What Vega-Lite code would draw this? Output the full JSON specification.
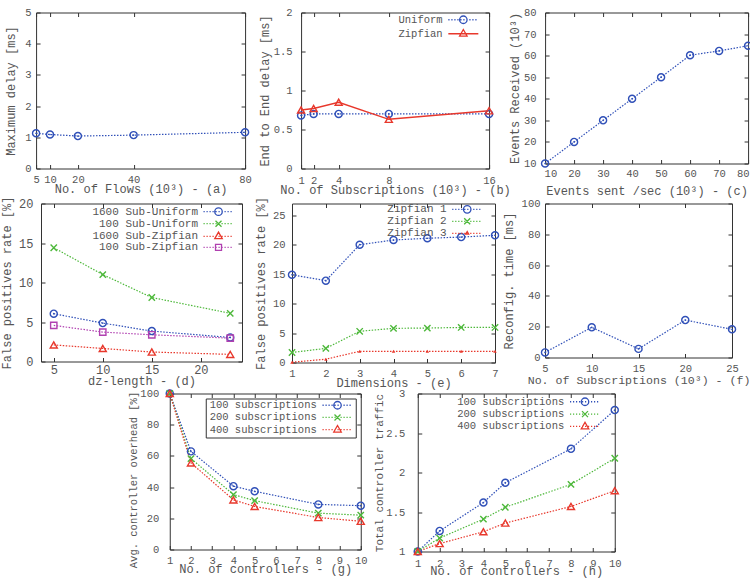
{
  "$schema": "https://vega.github.io/schema/vega-lite/v6.json",
  "padding": {"left": 0, "top": 6.5, "right": 0, "bottom": 0},
  "background": "white",
  "config": {
    "font": "Liberation Mono",
    "view": {"stroke": "#333", "strokeWidth": 1},
    "axis": {"grid": false, "domain": false, "tickSize": -4, "tickColor": "#333", "labelFontSize": 10.5, "labelColor": "#555", "titleFontSize": 12, "titleFontWeight": "normal", "titleColor": "#555", "labelFlush": false, "labelOverlap": false, "labelBound": false},
    "legend": {"labelColor": "#555", "labelAlign": "right", "labelOffset": -26, "symbolSize": 36, "symbolStrokeWidth": 1.3, "padding": 0, "symbolOpacity": 1, "labelLimit": 300, "rowPadding": -1}
  },
  "datasets": {
    "a": [{"x": 5, "y": 1.13}, {"x": 10, "y": 1.09}, {"x": 20, "y": 1.04}, {"x": 40, "y": 1.07}, {"x": 80, "y": 1.16}],
    "b": [
      {"x": 1, "y": 0.68, "s": "Uniform"}, {"x": 2, "y": 0.70, "s": "Uniform"}, {"x": 4, "y": 0.70, "s": "Uniform"}, {"x": 8, "y": 0.70, "s": "Uniform"}, {"x": 16, "y": 0.70, "s": "Uniform"},
      {"x": 1, "y": 0.75, "s": "Zipfian"}, {"x": 2, "y": 0.77, "s": "Zipfian"}, {"x": 4, "y": 0.85, "s": "Zipfian"}, {"x": 8, "y": 0.63, "s": "Zipfian"}, {"x": 16, "y": 0.74, "s": "Zipfian"}
    ],
    "c": [{"x": 10, "y": 10}, {"x": 20, "y": 20}, {"x": 30, "y": 30}, {"x": 40, "y": 40}, {"x": 50, "y": 50}, {"x": 60, "y": 60.2}, {"x": 70, "y": 62.2}, {"x": 80, "y": 64.6}],
    "d": [
      {"x": 5, "y": 6.05, "s": "1600 Sub-Uniform"}, {"x": 10, "y": 4.86, "s": "1600 Sub-Uniform"}, {"x": 15, "y": 3.85, "s": "1600 Sub-Uniform"}, {"x": 23, "y": 3.04, "s": "1600 Sub-Uniform"},
      {"x": 5, "y": 14.4, "s": "100 Sub-Uniform"}, {"x": 10, "y": 11.0, "s": "100 Sub-Uniform"}, {"x": 15, "y": 8.1, "s": "100 Sub-Uniform"}, {"x": 23, "y": 6.1, "s": "100 Sub-Uniform"},
      {"x": 5, "y": 2.1, "s": "1600 Sub-Zipfian"}, {"x": 10, "y": 1.65, "s": "1600 Sub-Zipfian"}, {"x": 15, "y": 1.2, "s": "1600 Sub-Zipfian"}, {"x": 23, "y": 0.9, "s": "1600 Sub-Zipfian"},
      {"x": 5, "y": 4.57, "s": "100 Sub-Zipfian"}, {"x": 10, "y": 3.72, "s": "100 Sub-Zipfian"}, {"x": 15, "y": 3.38, "s": "100 Sub-Zipfian"}, {"x": 23, "y": 2.96, "s": "100 Sub-Zipfian"}
    ],
    "e": [
      {"x": 1, "y": 14.9, "s": "Zipfian 1"}, {"x": 2, "y": 13.9, "s": "Zipfian 1"}, {"x": 3, "y": 20.0, "s": "Zipfian 1"}, {"x": 4, "y": 20.8, "s": "Zipfian 1"}, {"x": 5, "y": 21.1, "s": "Zipfian 1"}, {"x": 6, "y": 21.3, "s": "Zipfian 1"}, {"x": 7, "y": 21.6, "s": "Zipfian 1"},
      {"x": 1, "y": 1.7, "s": "Zipfian 2"}, {"x": 2, "y": 2.4, "s": "Zipfian 2"}, {"x": 3, "y": 5.3, "s": "Zipfian 2"}, {"x": 4, "y": 5.8, "s": "Zipfian 2"}, {"x": 5, "y": 5.85, "s": "Zipfian 2"}, {"x": 6, "y": 5.95, "s": "Zipfian 2"}, {"x": 7, "y": 5.95, "s": "Zipfian 2"},
      {"x": 1, "y": 0.05, "s": "Zipfian 3"}, {"x": 2, "y": 0.56, "s": "Zipfian 3"}, {"x": 3, "y": 1.9, "s": "Zipfian 3"}, {"x": 4, "y": 1.9, "s": "Zipfian 3"}, {"x": 5, "y": 1.9, "s": "Zipfian 3"}, {"x": 6, "y": 1.9, "s": "Zipfian 3"}, {"x": 7, "y": 1.9, "s": "Zipfian 3"}
    ],
    "f": [{"x": 5, "y": 3.3}, {"x": 10, "y": 19.6}, {"x": 15, "y": 5.6}, {"x": 20, "y": 24.3}, {"x": 25, "y": 18.3}],
    "g": [
      {"x": 1, "y": 100, "s": "100 subscriptions"}, {"x": 2, "y": 62.9, "s": "100 subscriptions"}, {"x": 4, "y": 40.6, "s": "100 subscriptions"}, {"x": 5, "y": 37.3, "s": "100 subscriptions"}, {"x": 8, "y": 28.9, "s": "100 subscriptions"}, {"x": 10, "y": 28.1, "s": "100 subscriptions"},
      {"x": 1, "y": 100, "s": "200 subscriptions"}, {"x": 2, "y": 58.3, "s": "200 subscriptions"}, {"x": 4, "y": 35.2, "s": "200 subscriptions"}, {"x": 5, "y": 31.3, "s": "200 subscriptions"}, {"x": 8, "y": 23.3, "s": "200 subscriptions"}, {"x": 10, "y": 22.0, "s": "200 subscriptions"},
      {"x": 1, "y": 100, "s": "400 subscriptions"}, {"x": 2, "y": 55.5, "s": "400 subscriptions"}, {"x": 4, "y": 31.8, "s": "400 subscriptions"}, {"x": 5, "y": 27.6, "s": "400 subscriptions"}, {"x": 8, "y": 20.5, "s": "400 subscriptions"}, {"x": 10, "y": 18.1, "s": "400 subscriptions"}
    ],
    "h": [
      {"x": 1, "y": 1.0, "s": "100 subscriptions"}, {"x": 2, "y": 1.26, "s": "100 subscriptions"}, {"x": 4, "y": 1.62, "s": "100 subscriptions"}, {"x": 5, "y": 1.87, "s": "100 subscriptions"}, {"x": 8, "y": 2.30, "s": "100 subscriptions"}, {"x": 10, "y": 2.79, "s": "100 subscriptions"},
      {"x": 1, "y": 1.0, "s": "200 subscriptions"}, {"x": 2, "y": 1.17, "s": "200 subscriptions"}, {"x": 4, "y": 1.41, "s": "200 subscriptions"}, {"x": 5, "y": 1.56, "s": "200 subscriptions"}, {"x": 8, "y": 1.85, "s": "200 subscriptions"}, {"x": 10, "y": 2.18, "s": "200 subscriptions"},
      {"x": 1, "y": 1.0, "s": "400 subscriptions"}, {"x": 2, "y": 1.10, "s": "400 subscriptions"}, {"x": 4, "y": 1.25, "s": "400 subscriptions"}, {"x": 5, "y": 1.36, "s": "400 subscriptions"}, {"x": 8, "y": 1.57, "s": "400 subscriptions"}, {"x": 10, "y": 1.77, "s": "400 subscriptions"}
    ]
  },
  "spacing": -2,
  "center": true,
  "resolve": {"scale": {"color": "independent", "shape": "independent"}},
  "vconcat": [
    {
      "hconcat": [
        {
          "width": 209, "height": 156,
          "data": {"name": "a"},
          "resolve": {"axis": {"x": "independent", "y": "independent"}},
          "layer": [
            {
              "encoding": {
                "x": {"field": "x", "type": "quantitative", "scale": {"domain": [5, 80], "nice": false, "zero": false}, "axis": {"values": [5, 10, 20, 40, 80], "title": "No. of Flows (10³) - (a)", "labelPadding": 9.5, "titleY": 15}},
                "y": {"field": "y", "type": "quantitative", "scale": {"domain": [0, 5], "nice": false, "zero": false}, "axis": {"values": [0, 1, 2, 3, 4, 5], "title": "Maximum delay [ms]", "labelPadding": 9, "titleX": -18.5}}
              },
              "layer": [
                {"mark": {"type": "line", "color": "#3050b8", "strokeDash": [1.5, 1.5], "strokeWidth": 1.2}},
                {"mark": {"type": "point", "color": "#3050b8", "filled": false, "size": 50, "strokeWidth": 1.4, "opacity": 1}},
                {"mark": {"type": "point", "color": "#3050b8", "filled": true, "size": 3, "opacity": 1}}
              ]
            },
            {"transform": [{"filter": "false"}], "mark": {"type": "point", "opacity": 0},
              "encoding": {
                "x": {"field": "x", "type": "quantitative", "scale": {"domain": [5, 80], "nice": false, "zero": false}, "axis": {"orient": "top", "values": [5, 10, 20, 40, 80], "labels": false, "title": null}},
                "y": {"field": "y", "type": "quantitative", "scale": {"domain": [0, 5], "nice": false, "zero": false}, "axis": {"orient": "right", "values": [0, 1, 2, 3, 4, 5], "labels": false, "title": null}}
              }}
          ]
        },
        {
          "width": 188, "height": 156,
          "data": {"name": "b"},
          "resolve": {"axis": {"x": "independent", "y": "independent"}},
          "layer": [
            {
              "encoding": {
                "x": {"field": "x", "type": "quantitative", "scale": {"domain": [1, 16], "nice": false, "zero": false}, "axis": {"values": [1, 2, 4, 8, 16], "title": "No. of Subscriptions (10³) - (b)", "labelPadding": 10.5, "titleY": 16}},
                "y": {"field": "y", "type": "quantitative", "scale": {"domain": [0, 2], "nice": false, "zero": false}, "axis": {"values": [0, 0.5, 1, 1.5, 2], "format": "~g", "title": "End to End delay [ms]", "labelPadding": 13, "titleX": -30}}
              },
              "layer": [
                {"transform": [{"filter": "datum.s === 'Uniform'"}], "mark": {"type": "line", "color": "#3050b8", "strokeDash": [1.5, 1.5], "strokeWidth": 1.2}},
                {"transform": [{"filter": "datum.s === 'Zipfian'"}], "mark": {"type": "line", "color": "#e8382c", "strokeWidth": 1.5}},
                {"transform": [{"filter": "datum.s === 'Uniform'"}], "mark": {"type": "point", "shape": "circle", "color": "#3050b8", "filled": false, "size": 50, "strokeWidth": 1.4, "opacity": 1}},
                {"transform": [{"filter": "datum.s === 'Uniform'"}], "mark": {"type": "point", "shape": "circle", "color": "#3050b8", "filled": true, "size": 3, "opacity": 1}},
                {"transform": [{"filter": "datum.s === 'Zipfian'"}], "mark": {"type": "point", "shape": "triangle-up", "color": "#e8382c", "filled": false, "size": 50, "strokeWidth": 1.4, "opacity": 1}},
                {"transform": [{"filter": "false"}], "mark": {"type": "point", "filled": false, "opacity": 1},
                  "encoding": {
                    "color": {"field": "s", "type": "nominal", "scale": {"domain": ["Uniform", "Zipfian"], "range": ["#3050b8", "#e8382c"]}, "legend": {"title": null, "orient": "none", "legendX": 157, "legendY": 2, "labelFontSize": 10.5, "rowPadding": 0}},
                    "shape": {"field": "s", "type": "nominal", "scale": {"domain": ["Uniform", "Zipfian"], "range": ["M-5,0h0.4M-4,0h0.4M-3,0h0.4M-2,0h0.4M-1,0h0.4M0,0h0.4M1,0h0.4M2,0h0.4M3,0h0.4M4,0h0.4M1.25,0A1.25,1.25,0,1,1,-1.25,0A1.25,1.25,0,1,1,1.25,0", "M-5,0H5M0,-1.4L1.25,0.8L-1.25,0.8Z"]}, "legend": {"title": null, "orient": "none", "legendX": 157, "legendY": 2, "labelFontSize": 10.5, "rowPadding": 0}}
                  }}
              ]
            },
            {"transform": [{"filter": "false"}], "mark": {"type": "point", "opacity": 0},
              "encoding": {
                "x": {"field": "x", "type": "quantitative", "scale": {"domain": [1, 16], "nice": false, "zero": false}, "axis": {"orient": "top", "values": [1, 2, 4, 8, 16], "labels": false, "title": null}},
                "y": {"field": "y", "type": "quantitative", "scale": {"domain": [0, 2], "nice": false, "zero": false}, "axis": {"orient": "right", "values": [0, 0.5, 1, 1.5, 2], "labels": false, "title": null}}
              }}
          ]
        },
        {
          "width": 203, "height": 151,
          "data": {"name": "c"},
          "resolve": {"axis": {"x": "independent", "y": "independent"}},
          "layer": [
            {
              "encoding": {
                "x": {"field": "x", "type": "quantitative", "scale": {"domain": [10, 80], "nice": false, "zero": false}, "axis": {"values": [10, 20, 30, 40, 50, 60, 70, 80], "title": "Events sent /sec (10³) - (c)", "labelPadding": 8.5, "titleY": 22, "labelFlush": true, "labelFlushOffset": 1}},
                "y": {"field": "y", "type": "quantitative", "scale": {"domain": [10, 80], "nice": false, "zero": false}, "axis": {"values": [10, 20, 30, 40, 50, 60, 70, 80], "title": "Events Received (10³)", "labelPadding": 13, "titleX": -24}}
              },
              "layer": [
                {"mark": {"type": "line", "color": "#3050b8", "strokeDash": [1.5, 1.5], "strokeWidth": 1.2}},
                {"mark": {"type": "point", "color": "#3050b8", "filled": false, "size": 50, "strokeWidth": 1.4, "opacity": 1}},
                {"mark": {"type": "point", "color": "#3050b8", "filled": true, "size": 3, "opacity": 1}}
              ]
            },
            {"transform": [{"filter": "false"}], "mark": {"type": "point", "opacity": 0},
              "encoding": {
                "x": {"field": "x", "type": "quantitative", "scale": {"domain": [10, 80], "nice": false, "zero": false}, "axis": {"orient": "top", "values": [10, 20, 30, 40, 50, 60, 70, 80], "labels": false, "title": null}},
                "y": {"field": "y", "type": "quantitative", "scale": {"domain": [10, 80], "nice": false, "zero": false}, "axis": {"orient": "right", "values": [10, 20, 30, 40, 50, 60, 70, 80], "labels": false, "title": null}}
              }}
          ]
        }
      ],
      "spacing": 56,
      "bounds": "flush",
      "resolve": {"scale": {"color": "independent", "shape": "independent"}}
    },
    {
      "spacing": -3,
      "center": true,
      "resolve": {"scale": {"color": "independent", "shape": "independent"}},
      "vconcat": [
        {
          "hconcat": [
            {
              "width": 201, "height": 158,
              "data": {"name": "d"},
              "resolve": {"axis": {"x": "independent", "y": "independent"}},
              "layer": [
                {
                  "encoding": {
                    "x": {"field": "x", "type": "quantitative", "scale": {"domain": [3.7, 24.2], "nice": false, "zero": false}, "axis": {"values": [5, 10, 15, 20], "title": "dz-length - (d)", "labelPadding": 6.5, "labelFontSize": 12, "titleY": 14}},
                    "y": {"field": "y", "type": "quantitative", "scale": {"domain": [0, 20], "nice": false, "zero": false}, "axis": {"values": [0, 5, 10, 15, 20], "title": "False positives rate [%]", "labelPadding": 12, "labelFontSize": 12, "titleX": -27.5}}
                  },
                  "layer": [
                    {"transform": [{"filter": "datum.s === '1600 Sub-Uniform'"}], "mark": {"type": "line", "color": "#3050b8", "strokeDash": [1.5, 1.5], "strokeWidth": 1.2}},
                    {"transform": [{"filter": "datum.s === '100 Sub-Uniform'"}], "mark": {"type": "line", "color": "#4db83a", "strokeDash": [1.5, 1.5], "strokeWidth": 1.2}},
                    {"transform": [{"filter": "datum.s === '1600 Sub-Zipfian'"}], "mark": {"type": "line", "color": "#e8382c", "strokeDash": [1.5, 1.5], "strokeWidth": 1.2}},
                    {"transform": [{"filter": "datum.s === '100 Sub-Zipfian'"}], "mark": {"type": "line", "color": "#b040b0", "strokeDash": [1.5, 1.5], "strokeWidth": 1.2}},
                    {"transform": [{"filter": "datum.s === '1600 Sub-Uniform'"}], "mark": {"type": "point", "shape": "circle", "color": "#3050b8", "filled": false, "size": 50, "strokeWidth": 1.4, "opacity": 1}},
                    {"transform": [{"filter": "datum.s === '1600 Sub-Uniform'"}], "mark": {"type": "point", "shape": "circle", "color": "#3050b8", "filled": true, "size": 3, "opacity": 1}},
                    {"transform": [{"filter": "datum.s === '100 Sub-Uniform'"}], "mark": {"type": "point", "shape": "M-1,-1L1,1M-1,1L1,-1", "color": "#4db83a", "filled": false, "size": 40, "strokeWidth": 1.4, "opacity": 1}},
                    {"transform": [{"filter": "datum.s === '1600 Sub-Zipfian'"}], "mark": {"type": "point", "shape": "triangle-up", "color": "#e8382c", "filled": false, "size": 50, "strokeWidth": 1.4, "opacity": 1}},
                    {"transform": [{"filter": "datum.s === '100 Sub-Zipfian'"}], "mark": {"type": "point", "shape": "square", "color": "#b040b0", "filled": false, "size": 40, "strokeWidth": 1.4, "opacity": 1}},
                    {"transform": [{"filter": "false"}], "mark": {"type": "point", "filled": false, "opacity": 1},
                      "encoding": {
                        "color": {"field": "s", "type": "nominal", "scale": {"domain": ["1600 Sub-Uniform", "100 Sub-Uniform", "1600 Sub-Zipfian", "100 Sub-Zipfian"], "range": ["#3050b8", "#4db83a", "#e8382c", "#b040b0"]}, "legend": {"title": null, "orient": "none", "legendX": 172, "legendY": 2.7, "labelFontSize": 11, "rowPadding": -1.4}},
                        "shape": {"field": "s", "type": "nominal", "scale": {"domain": ["1600 Sub-Uniform", "100 Sub-Uniform", "1600 Sub-Zipfian", "100 Sub-Zipfian"], "range": [
                          "M-5,0h0.4M-4,0h0.4M-3,0h0.4M-2,0h0.4M-1,0h0.4M0,0h0.4M1,0h0.4M2,0h0.4M3,0h0.4M4,0h0.4M1.25,0A1.25,1.25,0,1,1,-1.25,0A1.25,1.25,0,1,1,1.25,0",
                          "M-5,0h0.4M-4,0h0.4M-3,0h0.4M-2,0h0.4M-1,0h0.4M0,0h0.4M1,0h0.4M2,0h0.4M3,0h0.4M4,0h0.4M-1,-1L1,1M-1,1L1,-1",
                          "M-5,0h0.4M-4,0h0.4M-3,0h0.4M-2,0h0.4M-1,0h0.4M0,0h0.4M1,0h0.4M2,0h0.4M3,0h0.4M4,0h0.4M0,-1.4L1.25,0.8L-1.25,0.8Z",
                          "M-5,0h0.4M-4,0h0.4M-3,0h0.4M-2,0h0.4M-1,0h0.4M0,0h0.4M1,0h0.4M2,0h0.4M3,0h0.4M4,0h0.4M-1,-1H1V1H-1Z"]}, "legend": {"title": null, "orient": "none", "legendX": 172, "legendY": 2.7, "labelFontSize": 11, "rowPadding": -1.4}}
                      }}
                  ]
                },
                {"transform": [{"filter": "false"}], "mark": {"type": "point", "opacity": 0},
                  "encoding": {
                    "x": {"field": "x", "type": "quantitative", "scale": {"domain": [3.7, 24.2], "nice": false, "zero": false}, "axis": {"orient": "top", "values": [5, 10, 15, 20], "labels": false, "title": null}},
                    "y": {"field": "y", "type": "quantitative", "scale": {"domain": [0, 20], "nice": false, "zero": false}, "axis": {"orient": "right", "values": [0, 5, 10, 15, 20], "labels": false, "title": null}}
                  }}
              ]
            },
            {
              "width": 203, "height": 159,
              "data": {"name": "e"},
              "resolve": {"axis": {"x": "independent", "y": "independent"}},
              "layer": [
                {
                  "encoding": {
                    "x": {"field": "x", "type": "quantitative", "scale": {"domain": [1, 7], "nice": false, "zero": false}, "axis": {"values": [1, 2, 3, 4, 5, 6, 7], "title": "Dimensions - (e)", "labelPadding": 9.5, "titleY": 15}},
                    "y": {"field": "y", "type": "quantitative", "scale": {"domain": [0, 27], "nice": false, "zero": false}, "axis": {"values": [0, 5, 10, 15, 20, 25], "title": "False positives rate [%]", "labelPadding": 11, "titleX": -25}}
                  },
                  "layer": [
                    {"transform": [{"filter": "datum.s === 'Zipfian 1'"}], "mark": {"type": "line", "color": "#3050b8", "strokeDash": [1.5, 1.5], "strokeWidth": 1.2}},
                    {"transform": [{"filter": "datum.s === 'Zipfian 2'"}], "mark": {"type": "line", "color": "#4db83a", "strokeDash": [1.5, 1.5], "strokeWidth": 1.2}},
                    {"transform": [{"filter": "datum.s === 'Zipfian 3'"}], "mark": {"type": "line", "color": "#e8382c", "strokeDash": [1.5, 1.5], "strokeWidth": 1.2}},
                    {"transform": [{"filter": "datum.s === 'Zipfian 1'"}], "mark": {"type": "point", "shape": "circle", "color": "#3050b8", "filled": false, "size": 50, "strokeWidth": 1.4, "opacity": 1}},
                    {"transform": [{"filter": "datum.s === 'Zipfian 1'"}], "mark": {"type": "point", "shape": "circle", "color": "#3050b8", "filled": true, "size": 3, "opacity": 1}},
                    {"transform": [{"filter": "datum.s === 'Zipfian 2'"}], "mark": {"type": "point", "shape": "M-1,-1L1,1M-1,1L1,-1", "color": "#4db83a", "filled": false, "size": 40, "strokeWidth": 1.4, "opacity": 1}},
                    {"transform": [{"filter": "datum.s === 'Zipfian 3'"}], "mark": {"type": "point", "shape": "triangle-up", "color": "#e8382c", "filled": true, "size": 12, "opacity": 1}},
                    {"transform": [{"filter": "false"}], "mark": {"type": "point", "filled": false, "opacity": 1},
                      "encoding": {
                        "color": {"field": "s", "type": "nominal", "scale": {"domain": ["Zipfian 1", "Zipfian 2", "Zipfian 3"], "range": ["#3050b8", "#4db83a", "#e8382c"]}, "legend": {"title": null, "orient": "none", "legendX": 169.7, "legendY": 0.3, "labelFontSize": 11, "rowPadding": -1}},
                        "shape": {"field": "s", "type": "nominal", "scale": {"domain": ["Zipfian 1", "Zipfian 2", "Zipfian 3"], "range": [
                          "M-5,0h0.4M-4,0h0.4M-3,0h0.4M-2,0h0.4M-1,0h0.4M0,0h0.4M1,0h0.4M2,0h0.4M3,0h0.4M4,0h0.4M1.25,0A1.25,1.25,0,1,1,-1.25,0A1.25,1.25,0,1,1,1.25,0",
                          "M-5,0h0.4M-4,0h0.4M-3,0h0.4M-2,0h0.4M-1,0h0.4M0,0h0.4M1,0h0.4M2,0h0.4M3,0h0.4M4,0h0.4M-1,-1L1,1M-1,1L1,-1",
                          "M-5,0h0.4M-4,0h0.4M-3,0h0.4M-2,0h0.4M-1,0h0.4M0,0h0.4M1,0h0.4M2,0h0.4M3,0h0.4M4,0h0.4M0,-0.6L0.5,0.3L-0.5,0.3Z"]}, "legend": {"title": null, "orient": "none", "legendX": 169.7, "legendY": 0.3, "labelFontSize": 11, "rowPadding": -1}}
                      }}
                  ]
                },
                {"transform": [{"filter": "false"}], "mark": {"type": "point", "opacity": 0},
                  "encoding": {
                    "x": {"field": "x", "type": "quantitative", "scale": {"domain": [1, 7], "nice": false, "zero": false}, "axis": {"orient": "top", "values": [1, 2, 3, 4, 5, 6, 7], "labels": false, "title": null}},
                    "y": {"field": "y", "type": "quantitative", "scale": {"domain": [0, 27], "nice": false, "zero": false}, "axis": {"orient": "right", "values": [0, 5, 10, 15, 20, 25], "labels": false, "title": null}}
                  }}
              ]
            },
            {
              "width": 187, "height": 154,
              "data": {"name": "f"},
              "resolve": {"axis": {"x": "independent", "y": "independent"}},
              "layer": [
                {
                  "encoding": {
                    "x": {"field": "x", "type": "quantitative", "scale": {"domain": [5, 25], "nice": false, "zero": false}, "axis": {"values": [5, 10, 15, 20, 25], "title": "No. of Subscriptions (10³) - (f)", "titleFontSize": 11.6, "labelPadding": 9.5, "titleY": 17}},
                    "y": {"field": "y", "type": "quantitative", "scale": {"domain": [0, 100], "nice": false, "zero": false}, "axis": {"values": [0, 20, 40, 60, 80, 100], "title": "Reconfig. time [ms]", "labelPadding": 9, "titleX": -30}}
                  },
                  "layer": [
                    {"mark": {"type": "line", "color": "#3050b8", "strokeDash": [1.5, 1.5], "strokeWidth": 1.2}},
                    {"mark": {"type": "point", "color": "#3050b8", "filled": false, "size": 50, "strokeWidth": 1.4, "opacity": 1}},
                    {"mark": {"type": "point", "color": "#3050b8", "filled": true, "size": 3, "opacity": 1}}
                  ]
                },
                {"transform": [{"filter": "false"}], "mark": {"type": "point", "opacity": 0},
                  "encoding": {
                    "x": {"field": "x", "type": "quantitative", "scale": {"domain": [5, 25], "nice": false, "zero": false}, "axis": {"orient": "top", "values": [5, 10, 15, 20, 25], "labels": false, "title": null}},
                    "y": {"field": "y", "type": "quantitative", "scale": {"domain": [0, 100], "nice": false, "zero": false}, "axis": {"orient": "right", "values": [0, 20, 40, 60, 80, 100], "labels": false, "title": null}}
                  }}
              ]
            }
          ],
          "spacing": 50,
          "bounds": "flush",
          "resolve": {"scale": {"color": "independent", "shape": "independent"}}
        },
        {
          "hconcat": [
            {
              "width": 191, "height": 156,
              "data": {"name": "g"},
              "resolve": {"axis": {"x": "independent", "y": "independent"}},
              "layer": [
                {
                  "encoding": {
                    "x": {"field": "x", "type": "quantitative", "scale": {"domain": [1, 10], "nice": false, "zero": false}, "axis": {"values": [1, 2, 3, 4, 5, 6, 7, 8, 9, 10], "title": "No. of controllers - (g)", "labelPadding": 9.5, "titleY": 14}},
                    "y": {"field": "y", "type": "quantitative", "scale": {"domain": [0, 100], "nice": false, "zero": false}, "axis": {"values": [0, 20, 40, 60, 80, 100], "title": "Avg. controller overhead [%]", "labelPadding": 15, "titleX": -31, "titleY": 86, "titleFontSize": 10.5}}
                  },
                  "layer": [
                    {"transform": [{"filter": "datum.s === '100 subscriptions'"}], "mark": {"type": "line", "color": "#3050b8", "strokeDash": [1.5, 1.5], "strokeWidth": 1.2}},
                    {"transform": [{"filter": "datum.s === '200 subscriptions'"}], "mark": {"type": "line", "color": "#4db83a", "strokeDash": [1.5, 1.5], "strokeWidth": 1.2}},
                    {"transform": [{"filter": "datum.s === '400 subscriptions'"}], "mark": {"type": "line", "color": "#e8382c", "strokeDash": [1.5, 1.5], "strokeWidth": 1.2}},
                    {"transform": [{"filter": "datum.s === '100 subscriptions'"}], "mark": {"type": "point", "shape": "circle", "color": "#3050b8", "filled": false, "size": 50, "strokeWidth": 1.4, "opacity": 1}},
                    {"transform": [{"filter": "datum.s === '100 subscriptions'"}], "mark": {"type": "point", "shape": "circle", "color": "#3050b8", "filled": true, "size": 3, "opacity": 1}},
                    {"transform": [{"filter": "datum.s === '200 subscriptions'"}], "mark": {"type": "point", "shape": "M-1,-1L1,1M-1,1L1,-1", "color": "#4db83a", "filled": false, "size": 40, "strokeWidth": 1.4, "opacity": 1}},
                    {"transform": [{"filter": "datum.s === '400 subscriptions'"}], "mark": {"type": "point", "shape": "triangle-up", "color": "#e8382c", "filled": false, "size": 50, "strokeWidth": 1.4, "opacity": 1}},
                    {"transform": [{"filter": "false"}], "mark": {"type": "point", "filled": false, "opacity": 1},
                      "encoding": {
                        "color": {"field": "s", "type": "nominal", "scale": {"domain": ["100 subscriptions", "200 subscriptions", "400 subscriptions"], "range": ["#3050b8", "#4db83a", "#e8382c"]}, "legend": {"title": null, "orient": "none", "legendX": 36, "legendY": 5, "labelFontSize": 10.5, "rowPadding": -0.8, "padding": 1.5, "strokeColor": "#333", "labelOffset": -26, "symbolOffset": 125}},
                        "shape": {"field": "s", "type": "nominal", "scale": {"domain": ["100 subscriptions", "200 subscriptions", "400 subscriptions"], "range": [
                          "M-5,0h0.4M-4,0h0.4M-3,0h0.4M-2,0h0.4M-1,0h0.4M0,0h0.4M1,0h0.4M2,0h0.4M3,0h0.4M4,0h0.4M1.25,0A1.25,1.25,0,1,1,-1.25,0A1.25,1.25,0,1,1,1.25,0",
                          "M-5,0h0.4M-4,0h0.4M-3,0h0.4M-2,0h0.4M-1,0h0.4M0,0h0.4M1,0h0.4M2,0h0.4M3,0h0.4M4,0h0.4M-1,-1L1,1M-1,1L1,-1",
                          "M-5,0h0.4M-4,0h0.4M-3,0h0.4M-2,0h0.4M-1,0h0.4M0,0h0.4M1,0h0.4M2,0h0.4M3,0h0.4M4,0h0.4M0,-1.4L1.25,0.8L-1.25,0.8Z"]}, "legend": {"title": null, "orient": "none", "legendX": 36, "legendY": 5, "labelFontSize": 10.5, "rowPadding": -0.8, "padding": 1.5, "strokeColor": "#333", "labelOffset": -26, "symbolOffset": 125}}
                      }}
                  ]
                },
                {"transform": [{"filter": "false"}], "mark": {"type": "point", "opacity": 0},
                  "encoding": {
                    "x": {"field": "x", "type": "quantitative", "scale": {"domain": [1, 10], "nice": false, "zero": false}, "axis": {"orient": "top", "values": [1, 2, 3, 4, 5, 6, 7, 8, 9, 10], "labels": false, "title": null}},
                    "y": {"field": "y", "type": "quantitative", "scale": {"domain": [0, 100], "nice": false, "zero": false}, "axis": {"orient": "right", "values": [0, 20, 40, 60, 80, 100], "labels": false, "title": null}}
                  }}
              ]
            },
            {
              "width": 197, "height": 158,
              "data": {"name": "h"},
              "resolve": {"axis": {"x": "independent", "y": "independent"}},
              "layer": [
                {
                  "encoding": {
                    "x": {"field": "x", "type": "quantitative", "scale": {"domain": [1, 10], "nice": false, "zero": false}, "axis": {"values": [1, 2, 3, 4, 5, 6, 7, 8, 9, 10], "title": "No. of controllers - (h)", "labelPadding": 10.5, "titleY": 14}},
                    "y": {"field": "y", "type": "quantitative", "scale": {"domain": [1, 3], "nice": false, "zero": false}, "axis": {"values": [1, 1.5, 2, 2.5, 3], "format": "~g", "title": "Total controller traffic", "labelPadding": 17, "titleX": -33, "titleFontSize": 11}}
                  },
                  "layer": [
                    {"transform": [{"filter": "datum.s === '100 subscriptions'"}], "mark": {"type": "line", "color": "#3050b8", "strokeDash": [1.5, 1.5], "strokeWidth": 1.2}},
                    {"transform": [{"filter": "datum.s === '200 subscriptions'"}], "mark": {"type": "line", "color": "#4db83a", "strokeDash": [1.5, 1.5], "strokeWidth": 1.2}},
                    {"transform": [{"filter": "datum.s === '400 subscriptions'"}], "mark": {"type": "line", "color": "#e8382c", "strokeDash": [1.5, 1.5], "strokeWidth": 1.2}},
                    {"transform": [{"filter": "datum.s === '100 subscriptions'"}], "mark": {"type": "point", "shape": "circle", "color": "#3050b8", "filled": false, "size": 50, "strokeWidth": 1.4, "opacity": 1}},
                    {"transform": [{"filter": "datum.s === '100 subscriptions'"}], "mark": {"type": "point", "shape": "circle", "color": "#3050b8", "filled": true, "size": 3, "opacity": 1}},
                    {"transform": [{"filter": "datum.s === '200 subscriptions'"}], "mark": {"type": "point", "shape": "M-1,-1L1,1M-1,1L1,-1", "color": "#4db83a", "filled": false, "size": 40, "strokeWidth": 1.4, "opacity": 1}},
                    {"transform": [{"filter": "datum.s === '400 subscriptions'"}], "mark": {"type": "point", "shape": "triangle-up", "color": "#e8382c", "filled": false, "size": 50, "strokeWidth": 1.4, "opacity": 1}},
                    {"transform": [{"filter": "false"}], "mark": {"type": "point", "filled": false, "opacity": 1},
                      "encoding": {
                        "color": {"field": "s", "type": "nominal", "scale": {"domain": ["100 subscriptions", "200 subscriptions", "400 subscriptions"], "range": ["#3050b8", "#4db83a", "#e8382c"]}, "legend": {"title": null, "orient": "none", "legendX": 162, "legendY": 3, "labelFontSize": 10.5, "rowPadding": -0.65}},
                        "shape": {"field": "s", "type": "nominal", "scale": {"domain": ["100 subscriptions", "200 subscriptions", "400 subscriptions"], "range": [
                          "M-5,0h0.4M-4,0h0.4M-3,0h0.4M-2,0h0.4M-1,0h0.4M0,0h0.4M1,0h0.4M2,0h0.4M3,0h0.4M4,0h0.4M1.25,0A1.25,1.25,0,1,1,-1.25,0A1.25,1.25,0,1,1,1.25,0",
                          "M-5,0h0.4M-4,0h0.4M-3,0h0.4M-2,0h0.4M-1,0h0.4M0,0h0.4M1,0h0.4M2,0h0.4M3,0h0.4M4,0h0.4M-1,-1L1,1M-1,1L1,-1",
                          "M-5,0h0.4M-4,0h0.4M-3,0h0.4M-2,0h0.4M-1,0h0.4M0,0h0.4M1,0h0.4M2,0h0.4M3,0h0.4M4,0h0.4M0,-1.4L1.25,0.8L-1.25,0.8Z"]}, "legend": {"title": null, "orient": "none", "legendX": 162, "legendY": 3, "labelFontSize": 10.5, "rowPadding": -0.65}}
                      }}
                  ]
                },
                {"transform": [{"filter": "false"}], "mark": {"type": "point", "opacity": 0},
                  "encoding": {
                    "x": {"field": "x", "type": "quantitative", "scale": {"domain": [1, 10], "nice": false, "zero": false}, "axis": {"orient": "top", "values": [1, 2, 3, 4, 5, 6, 7, 8, 9, 10], "labels": false, "title": null}},
                    "y": {"field": "y", "type": "quantitative", "scale": {"domain": [1, 3], "nice": false, "zero": false}, "axis": {"orient": "right", "values": [1, 1.5, 2, 2.5, 3], "labels": false, "title": null}}
                  }}
              ]
            }
          ],
          "spacing": 57,
          "bounds": "flush",
          "resolve": {"scale": {"color": "independent", "shape": "independent"}}
        }
      ]
    }
  ]
}
